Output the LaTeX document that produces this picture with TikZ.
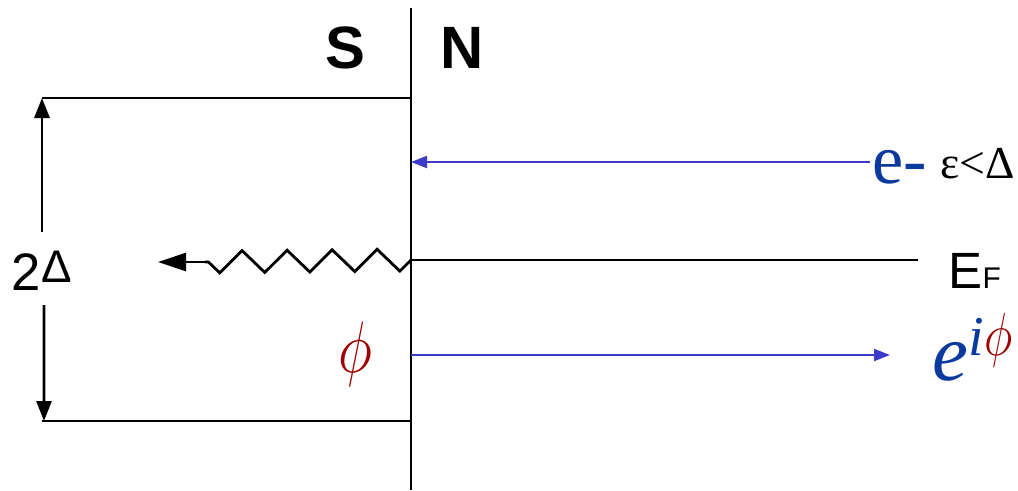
\documentclass[tikz,border=0pt]{standalone}
\usepackage{fontspec}
\setmainfont{Liberation Serif}
\setsansfont{Liberation Sans}
\usetikzlibrary{arrows.meta,decorations.pathmorphing}
\definecolor{lineBlue}{HTML}{3B3BC8}
\definecolor{labelBlue}{HTML}{0A3A9E}
\definecolor{darkRed}{HTML}{A00000}

\begin{document}
\begin{tikzpicture}[x=0.01cm, y=-0.01cm,
    edge/.style={draw=black, line width=0.8pt},
    gap/.style={draw=black, line width=0.8pt, -{Triangle[length=0.2cm, width=0.15cm]}},
    probe/.style={draw=lineBlue, line width=0.6pt, -{Triangle[length=0.16cm, width=0.12cm]}},
    side/.style={font=\sffamily\bfseries\fontsize{17}{20}\selectfont},
    lbl/.style={inner sep=0pt, anchor=base west}
  ]
    \useasboundingbox (0,0) rectangle (1018,490);

    % interface and gap edges
    \coordinate (itop) at (411,8);
    \coordinate (ibot) at (411,490);
    \coordinate (gtop) at (411,98);
    \coordinate (gtopl) at (42,98);
    \coordinate (gbot) at (411,421);
    \coordinate (gbotl) at (42,421);
    \draw[edge] (itop) -- (ibot);
    \draw[edge] (gtopl) -- (gtop);
    \draw[edge] (gbotl) -- (gbot);

    \node[side] (sS) at (345,48) {S};
    \node[side] (sN) at (462,48) {N};

    % gap arrows
    \coordinate (ua) at (42,232);
    \coordinate (da) at (44,305);
    \draw[gap] (ua) -- (gtopl);
    \draw[gap] (da) -- ([xshift=0.02cm]gbotl);
    \node[lbl, font=\sffamily\fontsize{15}{18}\selectfont] (two) at (11,290) {2};
    \node[lbl, font=\sffamily\fontsize{13}{15}\selectfont] (delta) at (41,282) {Δ};

    % incoming electron
    \coordinate (ein) at (870,162);
    \coordinate (ehit) at (411,162);
    \draw[probe] (ein) -- (ehit);
    \node[lbl, font=\rmfamily\fontsize{20}{22}\selectfont\color{labelBlue}] (elec) at (872,183) {e-};
    \node[lbl, font=\rmfamily\fontsize{13}{15}\selectfont] (eps) at (940,178) {ε<Δ};

    % Fermi level
    \coordinate (fl) at (411,260);
    \coordinate (fr) at (918,260);
    \draw[edge] (fl) -- (fr);
    \node[lbl, font=\sffamily\fontsize{14.5}{17}\selectfont] (ef) at (948,288) {E{\fontsize{8.5}{10}\selectfont F}};

    % Cooper pair
    \coordinate (wv) at (411,260);
    \coordinate (wm) at (205,262);
    \coordinate (wt) at (158,262);
    \draw[edge, decorate, decoration={zigzag, segment length=0.45cm, amplitude=0.11cm}] (wv) -- (wm);
    \draw[edge, -{Triangle[length=0.28cm, width=0.18cm]}] (wm) -- (wt);

    % reflected hole
    \coordinate (hin) at (411,355);
    \coordinate (hout) at (890,355);
    \draw[probe] (hin) -- (hout);
    \node[lbl, font=\fontsize{20}{22}\selectfont\color{darkRed}] (phi) at (338,372) {\scalebox{0.8}[1]{$\phi$}};
    \node[lbl, font=\rmfamily\itshape\fontsize{23}{25}\selectfont] (phase) at (932,380) {\color{labelBlue}e\raisebox{0.3em}{\fontsize{16}{18}\selectfont i\color{darkRed}\scalebox{0.8}[1]{$\phi$}}};
\end{tikzpicture}
\end{document}
